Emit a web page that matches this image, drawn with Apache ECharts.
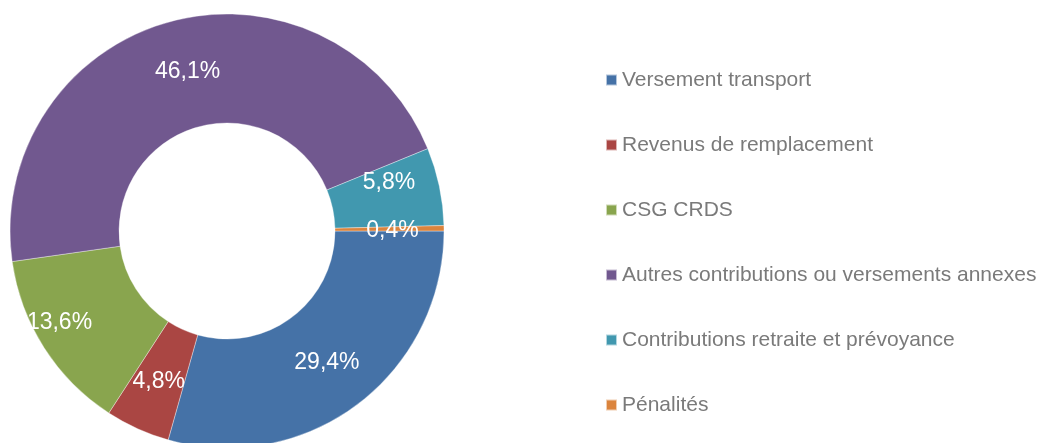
<!DOCTYPE html>
<html>
<head>
<meta charset="utf-8">
<script src="https://cdn.jsdelivr.net/npm/echarts@6/dist/echarts.min.js"></script>
<style>
  html, body { margin: 0; padding: 0; background: #fff; }
  #chart { width: 1042px; height: 443px; }
</style>
</head>
<body>
<div id="chart"></div>
<script>
// donnees du graphique
var categories = [
  "Versement transport",
  "Revenus de remplacement",
  "CSG CRDS",
  "Autres contributions ou versements annexes",
  "Contributions retraite et prévoyance",
  "Pénalités"
];
var values = [29.4, 4.8, 13.6, 46.1, 5.8, 0.4];
var colors = ["#4572A7", "#AA4643", "#89A54E", "#71588F", "#4198AF", "#DB843D"];
// decalage des etiquettes (comme dans le graphique d'origine)
var labelOffsets = [[0, 0], [0, 0], [-28, 3], [4, 0], [0, -14], [0, 2]];

var chart = echarts.init(document.getElementById("chart"));

var seriesData = categories.map(function (name, i) {
  return {
    name: name,
    value: values[i],
    itemStyle: { color: colors[i] },
    label: { offset: labelOffsets[i] }
  };
});

chart.setOption({
  animation: false,
  legend: {
    orient: "vertical",
    left: 600,
    top: 63,
    icon: "rect",
    itemWidth: 11,
    itemHeight: 11,
    itemGap: 41,
    textStyle: {
      fontFamily: "Liberation Sans, Arial, sans-serif",
      fontSize: 21,
      lineHeight: 24,
      color: "#7a7a7a"
    },
    data: categories
  },
  series: [
    {
      type: "pie",
      center: [227, 231],
      radius: [108, 217],
      startAngle: 0,
      clockwise: true,
      avoidLabelOverlap: false,
      itemStyle: { borderColor: "rgba(255,255,255,0.6)", borderWidth: 0.6 },
      label: {
        show: true,
        position: "inside",
        color: "#fff",
        fontFamily: "Liberation Sans, Arial, sans-serif",
        fontSize: 23,
        formatter: function (p) {
          return p.value.toFixed(1).replace(".", ",") + "%";
        }
      },
      labelLine: { show: false },
      emphasis: { disabled: true },
      data: seriesData
    }
  ]
});
</script>
</body>
</html>
